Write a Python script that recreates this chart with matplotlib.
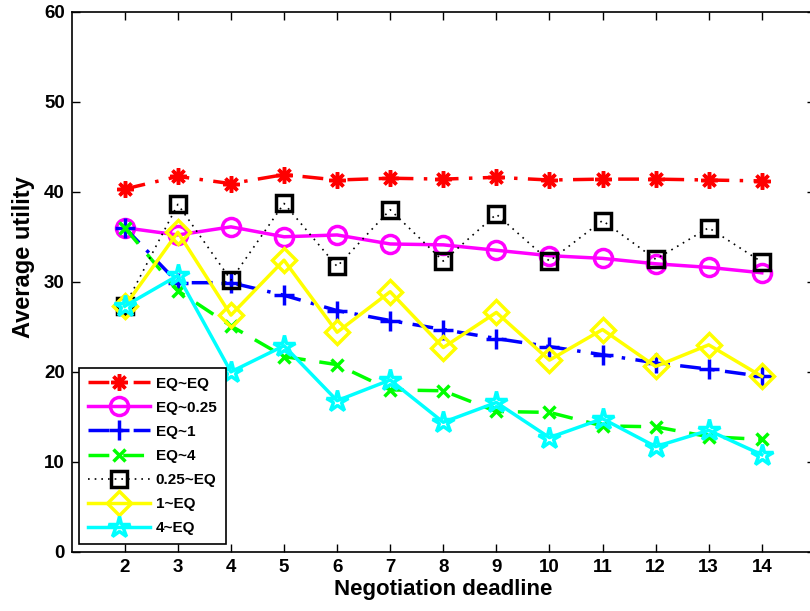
import matplotlib
matplotlib.use("Agg")
import matplotlib.pyplot as plt

deadlines = [2, 3, 4, 5, 6, 7, 8, 9, 10, 11, 12, 13, 14]
labels = ["EQ~EQ", "EQ~0.25", "EQ~1", "EQ~4", "0.25~EQ", "1~EQ", "4~EQ"]

eq_eq = [40.3, 41.7, 40.9, 41.9, 41.3, 41.5, 41.4, 41.6, 41.3, 41.4, 41.4, 41.3, 41.2]
eq_025 = [36.0, 35.2, 36.1, 35.0, 35.2, 34.2, 34.1, 33.5, 32.9, 32.6, 32.0, 31.6, 31.0]
eq_1 = [36.0, 29.9, 29.9, 28.5, 26.8, 25.7, 24.7, 23.7, 22.8, 21.9, 21.0, 20.3, 19.5]
eq_4 = [36.0, 29.0, 25.1, 21.7, 20.8, 18.0, 17.9, 15.6, 15.5, 14.0, 13.9, 12.8, 12.5]
q025_eq = [27.3, 38.6, 30.2, 38.7, 31.7, 38.0, 32.3, 37.5, 32.3, 36.8, 32.5, 36.0, 32.2]
one_eq = [27.3, 35.5, 26.3, 32.4, 24.4, 28.9, 22.7, 26.6, 21.3, 24.7, 20.6, 23.0, 19.5]
four_eq = [27.3, 30.7, 20.0, 22.9, 16.8, 19.1, 14.4, 16.6, 12.7, 14.8, 11.7, 13.5, 10.8]

series = [eq_eq, eq_025, eq_1, eq_4, q025_eq, one_eq, four_eq]
styles = [
    dict(color=(1, 0, 0), linestyle=(0, (6, 3, 1, 3)), marker=(8, 2, 0), markersize=12),
    dict(color=(1, 0, 1), linestyle="-", marker="o", markersize=13, markerfacecolor="none"),
    dict(color=(0, 0, 1), linestyle=(0, (6, 3, 1, 3)), marker="+", markersize=15),
    dict(color=(0, 1, 0), linestyle=(0, (6, 4)), marker="x", markersize=9),
    dict(color=(0, 0, 0), linestyle=(0, (1, 3)), linewidth=1.2, marker="s", markersize=11, markerfacecolor="none"),
    dict(color=(1, 1, 0), linestyle="-", marker="D", markersize=12, markerfacecolor="none"),
    dict(color=(0, 1, 1), linestyle="-", marker="*", markersize=16, markerfacecolor="none"),
]

plt.rcParams['font.family'] = ['Liberation Sans', 'DejaVu Sans']
plt.rcParams['font.weight'] = 'bold'

fig = plt.figure(figsize=(8.1, 6.11), dpi=100)
ax = fig.add_axes([0.0885, 0.0966, 0.9175, 0.8844])

for vals, lab, st in zip(series, labels, styles):
    kw = dict(linewidth=2.5, markeredgewidth=2.5)
    kw.update(st)
    ax.plot(deadlines, vals, label=lab, **kw)

ax.set_xlim(1, 15)
ax.set_ylim(0, 60)
ax.set_xticks(deadlines)
ax.set_yticks([0, 10, 20, 30, 40, 50, 60])
ax.tick_params(direction="in", top=True, right=True, labelsize=13.5, length=6, width=1, pad=5)
for lab in ax.get_xticklabels() + ax.get_yticklabels():
    lab.set_fontweight("bold")
for sp in ax.spines.values():
    sp.set_linewidth(1.2)
ax.set_xlabel("Negotiation deadline", fontsize=16, fontweight="bold", labelpad=2)
ax.set_ylabel("Average utility", fontsize=17, fontweight="bold")
ax.yaxis.set_label_coords(-0.049, 0.545)

leg = ax.legend(loc="lower left", bbox_to_anchor=(0.0, 0.0),
                prop=dict(weight="bold", size=11), fancybox=False, framealpha=1,
                edgecolor="black", handlelength=4.0, borderaxespad=0.5,
                labelspacing=0.66, handletextpad=0.4, borderpad=0.6)
leg.get_frame().set_linewidth(1.2)

fig.savefig("out.png", dpi=100)
